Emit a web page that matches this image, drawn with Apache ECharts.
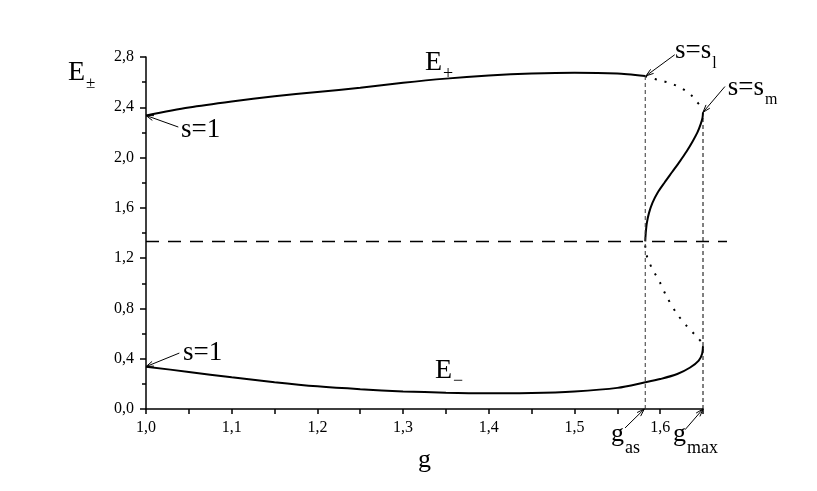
<!DOCTYPE html>
<html>
<head>
<meta charset="utf-8">
<script src="https://cdn.jsdelivr.net/npm/echarts@6/dist/echarts.min.js"></script>
<style>
html, body { margin: 0; padding: 0; background: #fff; }
#chart { width: 817px; height: 491px; }
</style>
</head>
<body>
<div id="chart"></div>
<script>
// upper branch E+ (solid)
const gPlus = [1.0, 1.05, 1.1, 1.15, 1.2, 1.25, 1.3, 1.35, 1.4, 1.45, 1.5, 1.55, 1.5826];
const ePlus = [2.335, 2.398, 2.446, 2.487, 2.522, 2.555, 2.595, 2.628, 2.652, 2.668, 2.675, 2.668, 2.648];
// lower branch E- (solid)
const gMinus = [1.0, 1.05, 1.1, 1.15, 1.2, 1.25, 1.3, 1.35, 1.4, 1.45, 1.5, 1.55, 1.5826, 1.6, 1.62, 1.635, 1.645, 1.649, 1.65];
const eMinus = [0.337, 0.295, 0.252, 0.213, 0.18, 0.157, 0.14, 0.13, 0.126, 0.128, 0.14, 0.168, 0.212, 0.238, 0.278, 0.33, 0.385, 0.44, 0.5];
// rising solid part between g_as and g_max
const gRise = [1.5826, 1.5832, 1.5845, 1.587, 1.591, 1.597, 1.605, 1.614, 1.623, 1.631, 1.638, 1.6435, 1.6475, 1.6495, 1.65];
const eRise = [1.333, 1.4, 1.48, 1.56, 1.64, 1.72, 1.8, 1.885, 1.97, 2.05, 2.13, 2.2, 2.27, 2.32, 2.36];
// dotted parts
const gUpDot = [1.5826, 1.59, 1.6, 1.6114, 1.622, 1.631, 1.638, 1.6425, 1.647, 1.65];
const eUpDot = [2.648, 2.632, 2.613, 2.593, 2.562, 2.526, 2.485, 2.446, 2.41, 2.37];
const gLowDot = [1.5826, 1.5835, 1.587, 1.592, 1.5995, 1.6075, 1.619, 1.631, 1.6425, 1.65];
const eLowDot = [1.3, 1.24, 1.17, 1.1, 1.01, 0.895, 0.763, 0.66, 0.577, 0.52];
// reference lines
const gAs = 1.5826;
const gMax = 1.65;
const eAsTop = 2.648;
const eMaxTop = 2.33;
const eLevel = 4 / 3;
const gLevel = [1.0, 1.678];

// annotations
const arrowTips = [[1.0, 2.335], [1.0, 0.337], [1.5835, 2.65], [1.65, 2.36], [1.5815, 0], [1.65, 0]];
const arrowTails = [[1.0377, 2.243], [1.0389, 0.445], [1.617, 2.818], [1.6756, 2.565], [1.559, -0.151], [1.629, -0.165]];
const labelMain = ['s=1', 's=1', 's=s', 's=s', 'g', 'g', 'E', 'E', 'E'];
const labelSub = ['', '', 'l', 'm', 'as', 'max', '+', '−', '±'];
const labelPos = [[1.0408, 2.222], [1.0432, 0.45], [1.6173, 2.85], [1.679, 2.556], [1.5426, -0.199], [1.615, -0.199], [1.3256, 2.758], [1.3372, 0.306], [0.909, 2.676]];
const labelSize = [27, 27, 27, 27, 26, 26, 28, 28, 28];
const subSize = [0, 0, 16, 16, 18, 18, 18, 18, 17];
const subDrop = [0, 0, 13, 12, 14, 14, 12, 11, 11];

const FONT = '"Liberation Serif", "Times New Roman", serif';
const measure = document.createElement('canvas').getContext('2d');
function textWidth(t, size) {
    measure.font = size + 'px ' + FONT;
    return measure.measureText(t).width;
}

function pairs(xs, ys) {
    return xs.map((x, i) => [x, ys[i]]);
}

function comma(v) {
    return v.toFixed(1).replace('.', ',');
}

const myChart = echarts.init(document.getElementById('chart'));

const option = {
    animation: false,
    textStyle: { fontFamily: FONT, color: '#000' },
    grid: [
        { left: 146, right: 114, top: 57, bottom: 82 },
        // wider hidden grid, only for the horizontal level line that runs past g_max
        { left: 146, right: 90, top: 57, bottom: 82 }
    ],
    xAxis: [{
        type: 'value',
        min: 1.0,
        max: 1.65,
        interval: 0.05,
        name: 'g',
        nameLocation: 'middle',
        nameGap: 38,
        nameTextStyle: { fontSize: 26, fontFamily: FONT, color: '#000' },
        axisLine: { lineStyle: { color: '#000', width: 1.5 } },
        axisTick: { length: 5, lineStyle: { color: '#000', width: 1.5 } },
        axisLabel: {
            margin: 11,
            fontSize: 16,
            fontFamily: FONT,
            color: '#000',
            formatter: function (v) {
                const k = Math.round(v * 10);
                if (Math.abs(v * 10 - k) > 1e-6 || v > 1.61) return '';
                return comma(v);
            }
        },
        splitLine: { show: false }
    }, {
        type: 'value', gridIndex: 1, min: gLevel[0], max: gLevel[1], show: false
    }],
    yAxis: [{
        type: 'value',
        min: 0,
        max: 2.8,
        interval: 0.4,
        axisLine: { lineStyle: { color: '#000', width: 1.5 } },
        axisTick: { length: 6, lineStyle: { color: '#000', width: 1.5 } },
        minorTick: { show: true, splitNumber: 2, length: 4, lineStyle: { color: '#000', width: 1.5 } },
        axisLabel: { margin: 12, fontSize: 16, fontFamily: FONT, color: '#000', formatter: comma },
        splitLine: { show: false }
    }, {
        type: 'value', gridIndex: 1, min: 0, max: 2.8, show: false
    }],
    series: [
        {
            type: 'line', data: pairs(gPlus, ePlus), showSymbol: false, smooth: 0.3,
            lineStyle: { color: '#000', width: 2 }
        },
        {
            type: 'line', data: pairs(gMinus, eMinus), showSymbol: false, smooth: 0.3,
            lineStyle: { color: '#000', width: 2 }
        },
        {
            type: 'line', data: pairs(gRise, eRise), showSymbol: false, smooth: 0.3,
            lineStyle: { color: '#000', width: 2 }
        },
        {
            type: 'line', data: pairs(gUpDot, eUpDot), showSymbol: false, smooth: 0.3,
            lineStyle: { color: '#000', width: 2, type: [2, 8] }
        },
        {
            type: 'line', data: pairs(gLowDot, eLowDot), showSymbol: false, smooth: 0.3,
            lineStyle: { color: '#000', width: 2, type: [2, 8] }
        },
        {
            type: 'line', data: [[gAs, 0], [gAs, eAsTop]], showSymbol: false,
            lineStyle: { color: '#333', width: 1, type: [4, 3] }
        },
        {
            type: 'line', data: [[gMax, 0], [gMax, eMaxTop]], showSymbol: false,
            lineStyle: { color: '#000', width: 1, type: [4, 3] }
        },
        {
            type: 'line', xAxisIndex: 1, yAxisIndex: 1,
            data: gLevel.map(g => [g, eLevel]), showSymbol: false,
            lineStyle: { color: '#000', width: 1.5, type: [13, 9] }
        },
        {
            type: 'custom',
            clip: false,
            data: arrowTips,
            renderItem: function (params, api) {
                const i = params.dataIndex;
                const a = api.coord(arrowTails[i]);
                const b = api.coord(arrowTips[i]);
                const ang = Math.atan2(b[1] - a[1], b[0] - a[0]);
                const L = 8, W = 0.32;
                const p1 = [b[0] - L * Math.cos(ang - W), b[1] - L * Math.sin(ang - W)];
                const p2 = [b[0] - L * Math.cos(ang + W), b[1] - L * Math.sin(ang + W)];
                return {
                    type: 'group',
                    children: [
                        { type: 'line', shape: { x1: a[0], y1: a[1], x2: b[0], y2: b[1] }, style: { stroke: '#000', lineWidth: 1 } },
                        { type: 'polyline', shape: { points: [p1, b, p2] }, style: { stroke: '#000', lineWidth: 1, fill: null } }
                    ]
                };
            }
        },
        {
            type: 'custom',
            clip: false,
            data: labelPos,
            renderItem: function (params, api) {
                const i = params.dataIndex;
                const p = api.coord(labelPos[i]);
                const children = [{
                    type: 'text',
                    style: {
                        text: labelMain[i], x: p[0], y: p[1],
                        font: labelSize[i] + 'px ' + FONT,
                        fill: '#000', align: 'left', verticalAlign: 'middle'
                    }
                }];
                if (labelSub[i]) {
                    const w = textWidth(labelMain[i], labelSize[i]);
                    children.push({
                        type: 'text',
                        style: {
                            text: labelSub[i], x: p[0] + w + 1, y: p[1] + subDrop[i],
                            font: subSize[i] + 'px ' + FONT,
                            fill: '#000', align: 'left', verticalAlign: 'middle'
                        }
                    });
                }
                return { type: 'group', children: children };
            }
        }
    ]
};

myChart.setOption(option);
</script>
</body>
</html>
